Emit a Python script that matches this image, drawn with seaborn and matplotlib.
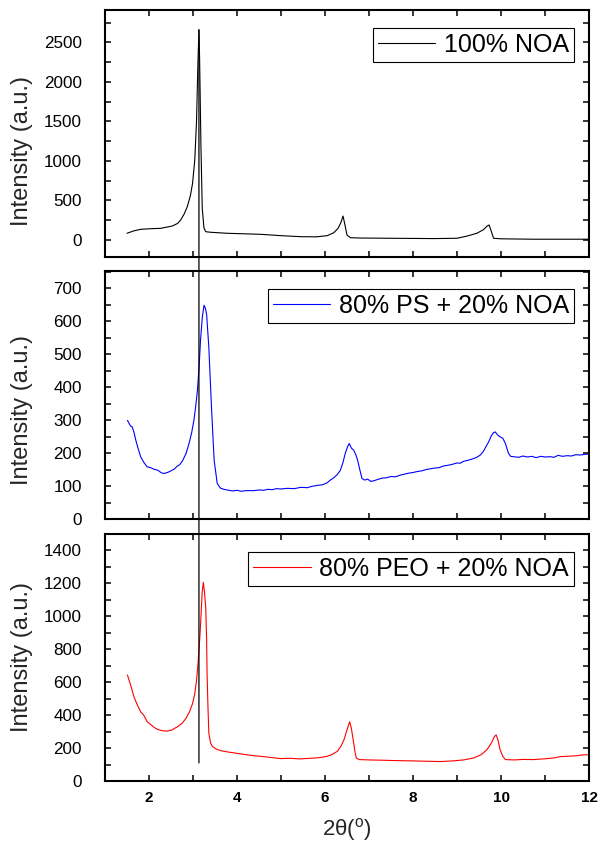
import numpy as np
import pandas as pd
import matplotlib
matplotlib.use("Agg")
import matplotlib.pyplot as plt
import seaborn as sns
from matplotlib.patches import ConnectionPatch
from matplotlib.ticker import MultipleLocator

# ---------------------------------------------------------------- data
noa_2theta = [1.50, 1.65, 1.81, 2.00, 2.27, 2.53, 2.65, 2.72, 2.80, 2.87, 2.94, 2.99,
              3.04, 3.08, 3.11, 3.135, 3.15, 3.18, 3.21, 3.25, 3.29, 3.40, 3.78, 4.54,
              5.00, 5.45, 5.80, 6.05, 6.20, 6.30, 6.36, 6.41, 6.45, 6.50, 6.58, 6.80,
              7.50, 8.47, 9.00, 9.23, 9.45, 9.60, 9.68, 9.73, 9.78, 9.83, 10.0, 10.73,
              11.5, 12.0]
noa_intensity = [85, 115, 135, 142, 148, 177, 210, 253, 330, 421, 560, 717,
                 1011, 1500, 2200, 2660, 2300, 1200, 400, 150, 105, 98, 85, 72,
                 55, 42, 40, 55, 92, 150, 220, 303, 200, 63, 29, 25,
                 22, 18, 22, 50, 85, 130, 175, 190, 110, 22, 15, 10,
                 10, 10]

ps_2theta = [1.51, 1.58, 1.62, 1.66, 1.70, 1.75, 1.81, 1.88, 1.96, 2.03, 2.11, 2.20,
             2.28, 2.34, 2.42, 2.50, 2.57, 2.64, 2.70, 2.76, 2.84, 2.91, 2.97, 3.02,
             3.06, 3.10, 3.14, 3.17, 3.21, 3.25, 3.28, 3.31, 3.36, 3.42, 3.48, 3.55,
             3.62, 3.70, 3.78, 3.90, 4.00, 4.10, 4.20, 4.38, 4.50, 4.60, 4.70, 4.80,
             4.90, 5.00, 5.14, 5.30, 5.45, 5.60, 5.70, 5.83, 5.95, 6.05, 6.12, 6.20,
             6.28, 6.35, 6.41, 6.46, 6.51, 6.55, 6.60, 6.65, 6.70, 6.74, 6.79, 6.84,
             6.90, 6.97, 7.04, 7.11, 7.20, 7.30, 7.40, 7.50, 7.60, 7.71, 7.80, 7.90,
             8.00, 8.10, 8.20, 8.30, 8.47, 8.60, 8.70, 8.80, 8.90, 9.00, 9.07, 9.15,
             9.25, 9.35, 9.45, 9.53, 9.60, 9.66, 9.72, 9.78, 9.83, 9.87, 9.92, 9.98,
             10.04, 10.10, 10.14, 10.17, 10.22, 10.28, 10.40, 10.50, 10.60, 10.70,
             10.80, 10.90, 11.00, 11.12, 11.20, 11.30, 11.40, 11.50, 11.60, 11.70,
             11.80, 11.90, 12.00]
ps_intensity = [299, 282, 279, 262, 239, 215, 189, 172, 158, 156, 151, 148,
                140, 138, 141, 146, 151, 160, 165, 176, 198, 229, 262, 299,
                340, 389, 465, 540, 610, 648, 640, 620, 520, 339, 179, 108,
                94, 90, 88, 85, 87, 84, 86, 86, 88, 87, 90, 89,
                92, 91, 93, 92, 96, 95, 99, 102, 104, 110, 118, 125,
                135, 148, 172, 199, 218, 229, 215, 209, 195, 179, 150, 123,
                118, 121, 114, 116, 120, 124, 125, 129, 128, 133, 136, 139,
                141, 144, 146, 150, 154, 156, 161, 163, 166, 170, 169, 175,
                178, 182, 187, 194, 205, 220, 234, 252, 262, 264, 255, 249,
                245, 229, 212, 199, 190, 189, 187, 191, 188, 190,
                186, 190, 188, 189, 187, 193, 190, 192, 191, 195,
                194, 196, 197]

peo_2theta = [1.51, 1.58, 1.66, 1.73, 1.81, 1.88, 1.96, 2.05, 2.12, 2.19, 2.30, 2.42,
              2.52, 2.65, 2.75, 2.84, 2.92, 2.99, 3.04, 3.08, 3.11, 3.14, 3.17, 3.19,
              3.21, 3.235, 3.26, 3.29, 3.31, 3.32, 3.34, 3.36, 3.40, 3.44, 3.52, 3.63,
              3.80, 4.00, 4.20, 4.38, 4.60, 4.80, 4.99, 5.20, 5.44, 5.60, 5.80, 5.95,
              6.05, 6.15, 6.28, 6.36, 6.43, 6.50, 6.56, 6.60, 6.64, 6.68, 6.71, 6.78,
              7.00, 7.33, 7.60, 8.00, 8.30, 8.62, 8.90, 9.15, 9.38, 9.55, 9.68, 9.78,
              9.85, 9.89, 9.93, 9.98, 10.04, 10.10, 10.30, 10.50, 10.74, 11.00, 11.20,
              11.35, 11.50, 11.70, 11.85, 12.00]
peo_intensity = [644, 585, 510, 465, 420, 400, 360, 340, 325, 314, 305, 303,
                 310, 330, 350, 380, 420, 470, 530, 610, 700, 810, 940, 1050,
                 1150, 1206, 1150, 1050, 850, 650, 450, 290, 230, 210, 195, 184,
                 176, 168, 160, 154, 148, 142, 136, 138, 134, 137, 140, 145,
                 150, 160, 180, 210, 250, 310, 360, 320, 250, 180, 140, 130,
                 128, 126, 124, 122, 120, 118, 122, 128, 140, 160, 190, 230,
                 270, 280, 250, 190, 150, 130, 128, 131, 130, 135, 140,
                 148, 150, 153, 158, 160]

series_labels = ["100% NOA", "80% PS + 20% NOA", "80% PEO + 20% NOA"]
series_colors = ["black", "#0000FF", "#FF0000"]

y_limits = [(-215, 2910), (0, 752), (0, 1500)]
y_major_steps = [500, 100, 200]
y_minor_steps = [250, 50, 100]

# position of the NOA reflection marked across all panels
ref_2theta = 3.135
ref_top, ref_bottom = 2660, 110

# ---------------------------------------------------------------- style
sns.set_style("ticks")
plt.rcParams["font.family"] = ["Liberation Sans", "DejaVu Sans"]
plt.rcParams["mathtext.default"] = "regular"
plt.rcParams["axes.edgecolor"] = "black"
plt.rcParams["text.color"] = "black"
plt.rcParams["xtick.color"] = "black"
plt.rcParams["ytick.color"] = "black"

fig = plt.figure(figsize=(6, 8.42), dpi=100)
W, H = 600, 842
left, width = 105 / W, 484 / W
panel_px = [(10, 257), (271, 519), (534, 781)]
label_y = [0.43, 0.44, 0.5]

axes = []
xs = [noa_2theta, ps_2theta, peo_2theta]
ys = [noa_intensity, ps_intensity, peo_intensity]

for i, (top, bot) in enumerate(panel_px):
    ax = fig.add_axes([left, 1 - bot / H, width, (bot - top) / H])
    df = pd.DataFrame({"2theta": xs[i], "intensity": ys[i]})
    sns.lineplot(data=df, x="2theta", y="intensity", ax=ax, color=series_colors[i],
                 lw=0.8, label=series_labels[i], sort=False, estimator=None)

    ax.set_xlim(1, 12)
    ax.set_ylim(*y_limits[i])
    ax.xaxis.set_major_locator(MultipleLocator(2))
    ax.xaxis.set_minor_locator(MultipleLocator(1))
    ax.yaxis.set_major_locator(MultipleLocator(y_major_steps[i]))
    ax.yaxis.set_minor_locator(MultipleLocator(y_minor_steps[i]))

    ax.tick_params(which="both", direction="in", top=True, right=True,
                   length=4.3, width=1.1)
    ax.tick_params(axis="y", labelsize=12.3, pad=16.5)
    ax.tick_params(axis="x", labelsize=11, pad=7.5)
    for lab in ax.get_xticklabels():
        lab.set_fontweight("bold")

    for s in ax.spines.values():
        s.set_visible(True)
        s.set_linewidth(1.5)
        s.set_color("black")

    ax.set_ylabel("Intensity (a.u.)", fontsize=17)
    ax.yaxis.set_label_coords(-0.148, label_y[i])

    if i < 2:
        ax.set_xlabel("")
        ax.tick_params(axis="x", labelbottom=False)
    else:
        ax.set_xlabel("2θ($^{o}$)", fontsize=16)
        ax.xaxis.set_label_coords(0.5, -0.14)

    leg = ax.legend(loc="upper right",
                    bbox_to_anchor=(1 - 15 / 484, 1 - 17.5 / (bot - top)),
                    borderaxespad=0, fontsize=18, frameon=True, fancybox=False,
                    edgecolor="black", framealpha=1, borderpad=0.2,
                    handlelength=2.3, handletextpad=0.35)
    leg.get_frame().set_linewidth(0.8)
    axes.append(ax)

# vertical guide through the first-order reflection
con = ConnectionPatch(xyA=(ref_2theta, ref_top), coordsA=axes[0].transData,
                      xyB=(ref_2theta, ref_bottom), coordsB=axes[2].transData,
                      color="black", lw=0.9)
fig.add_artist(con)

fig.savefig("out.png", dpi=100)
